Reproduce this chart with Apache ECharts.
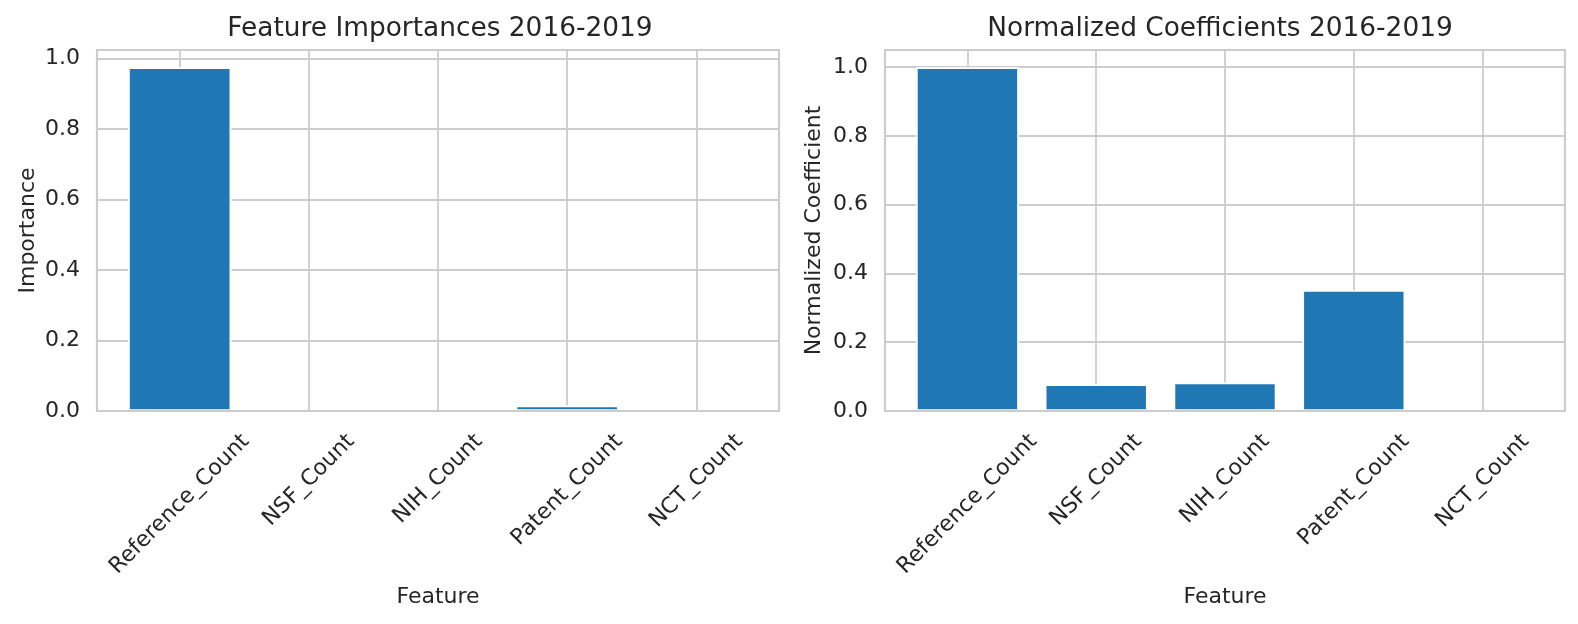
<!DOCTYPE html>
<html>
<head>
<meta charset="utf-8">
<script src="https://cdn.jsdelivr.net/npm/echarts@6/dist/echarts.min.js"></script>
<style>
html,body{margin:0;padding:0;background:#fff;}
#chart{width:1578px;height:624px;}
</style>
</head>
<body>
<div id="chart"></div>
<script>
// ---- data ----
const categories = ['Reference_Count', 'NSF_Count', 'NIH_Count', 'Patent_Count', 'NCT_Count'];
const importances = [0.975, 0, 0, 0.016, 0];
const coefficients = [1.0, 0.078, 0.083, 0.352, 0];
const yTickValues = [0, 0.2, 0.4, 0.6, 0.8, 1.0];
const yTickLabels = ['0.0', '0.2', '0.4', '0.6', '0.8', '1.0'];
const titles = ['Feature Importances 2016-2019', 'Normalized Coefficients 2016-2019'];
const yNames = ['Importance', 'Normalized Coefficient'];
const xName = 'Feature';

// ---- style / layout ----
const FONT = '"DejaVu Sans", sans-serif';
const TXT = '#262626';
const GRIDC = '#cccccc';
const BAR = '#1f77b4';
const TICK_FS = 22;
const LABEL_FS = 22;
const TITLE_FS = 26.4;
const xMin = -0.64, xMax = categories.length - 1 + 0.64;
const grids = [
  {left: 97, top: 50, width: 682, height: 361},
  {left: 885, top: 50, width: 680, height: 361}
];
const titleCenters = [435, 1215];
const yMaxes = [Math.max(...importances) * 1.05, Math.max(...coefficients) * 1.05];
const yNameGaps = [58, 60];

// measure label widths to mimic centred rotated labels
const ctx = document.createElement('canvas').getContext('2d');
ctx.font = TICK_FS + 'px "DejaVu Sans"';
const rich = {};
categories.forEach((c, i) => {
  const L = ctx.measureText(c).width;
  const h = TICK_FS * 1.164;
  const p = (L + h) / 2;
  rich['c' + i] = {padding: [p, p, 0, 0], fontSize: TICK_FS, fontFamily: FONT, color: TXT};
});

const chart = echarts.init(document.getElementById('chart'), null, {renderer: 'canvas'});

const option = {
  backgroundColor: '#ffffff',
  animation: false,
  textStyle: {fontFamily: FONT, color: TXT},
  title: titles.map((t, i) => ({
    text: t,
    left: titleCenters[i],
    top: 11,
    textAlign: 'center',
    textStyle: {fontFamily: FONT, fontSize: TITLE_FS, fontWeight: 'normal', color: TXT}
  })),
  grid: grids.map(g => Object.assign({}, g, {
    show: true, borderColor: GRIDC, borderWidth: 2.2, backgroundColor: '#fff',
    containLabel: false, outerBoundsMode: 'none'
  })),
  xAxis: [0, 1].flatMap(i => [
    {
      type: 'value', gridIndex: i, min: xMin, max: xMax,
      name: xName, nameLocation: 'middle', nameGap: 175, nameMoveOverlap: false,
      nameTextStyle: {fontFamily: FONT, fontSize: LABEL_FS, color: TXT},
      axisLine: {show: false},
      axisTick: {show: false, customValues: categories.map((c, k) => k)},
      splitLine: {show: true, lineStyle: {color: GRIDC, width: 1.8}},
      axisLabel: {
        customValues: categories.map((c, k) => k),
        rotate: 45, align: 'center', verticalAlign: 'middle', margin: 18,
        hideOverlap: false,
        formatter: v => { const k = Math.round(v); return '{c' + k + '|' + categories[k] + '}'; },
        rich: rich, fontFamily: FONT, fontSize: TICK_FS, color: TXT
      }
    },
    {
      type: 'value', gridIndex: i, min: xMin, max: xMax, position: 'bottom', z: 10,
      axisLine: {show: true, lineStyle: {color: GRIDC, width: 2.2}},
      axisTick: {show: false}, axisLabel: {show: false}, splitLine: {show: false}
    }
  ]),
  yAxis: [0, 1].map(i => ({
    type: 'value', gridIndex: i, min: 0, max: yMaxes[i],
    name: yNames[i], nameLocation: 'middle', nameGap: yNameGaps[i], nameMoveOverlap: false,
    nameTextStyle: {fontFamily: FONT, fontSize: LABEL_FS, color: TXT},
    axisLine: {show: false},
    axisTick: {show: false, customValues: yTickValues},
    splitLine: {show: true, lineStyle: {color: GRIDC, width: 1.8}},
    axisLabel: {
      customValues: yTickValues, margin: 17,
      formatter: v => { const k = yTickValues.findIndex(t => Math.abs(t - v) < 1e-9); return k >= 0 ? yTickLabels[k] : ''; },
      fontFamily: FONT, fontSize: TICK_FS, color: TXT
    }
  })),
  series: [importances, coefficients].map((arr, i) => ({
    type: 'bar', xAxisIndex: i * 2, yAxisIndex: i,
    barWidth: 0.8 * grids[i].width / (xMax - xMin),
    data: arr.map((v, k) => ({
      value: [k, v],
      itemStyle: v === 0 ? {borderWidth: 0, opacity: 0} : {}
    })),
    itemStyle: {color: BAR, borderColor: '#ffffff', borderWidth: 1.8},
    silent: true
  }))
};
chart.setOption(option);
</script>
</body>
</html>
